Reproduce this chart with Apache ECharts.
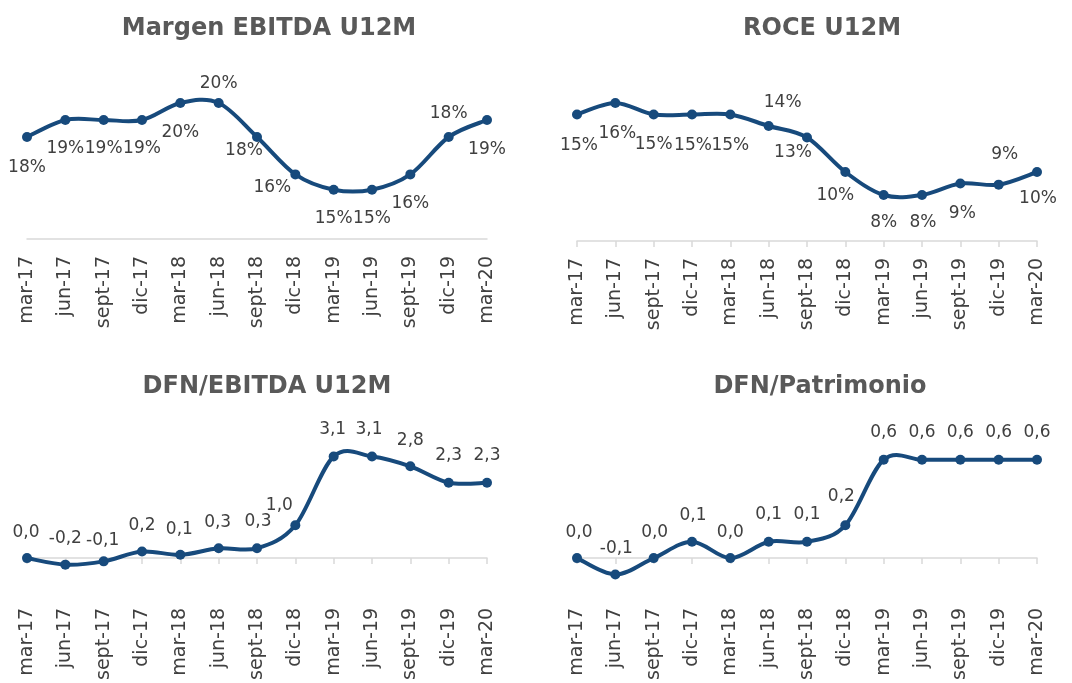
<!DOCTYPE html>
<html>
<head>
<meta charset="utf-8">
<script src="https://cdn.jsdelivr.net/npm/echarts@6/dist/echarts.min.js"></script>
<style>
  html, body { margin: 0; padding: 0; background: #fff; }
  #chart { width: 1072px; height: 683px; }
</style>
</head>
<body>
<div id="chart"></div>
<script>
var meses = ['mar-17', 'jun-17', 'sept-17', 'dic-17', 'mar-18', 'jun-18', 'sept-18',
    'dic-18', 'mar-19', 'jun-19', 'sept-19', 'dic-19', 'mar-20'];

var margenEbitda = [18.0, 19.0, 19.0, 19.0, 20.0, 20.0, 18.0, 15.8, 14.9, 14.9, 15.8, 18.0, 19.0];
var roce = [15.0, 16.0, 15.0, 15.0, 15.0, 14.0, 13.0, 10.0, 8.0, 8.0, 9.0, 8.9, 10.0];
var dfnEbitda = [0.0, -0.2, -0.1, 0.2, 0.1, 0.3, 0.3, 1.0, 3.1, 3.1, 2.8, 2.3, 2.3];
var dfnPatrimonio = [0.0, -0.1, 0.0, 0.1, 0.0, 0.1, 0.1, 0.2, 0.6, 0.6, 0.6, 0.6, 0.6];

// desplazamiento de cada etiqueta respecto al punto [dx, dy]
var off1 = [[0, 31], [0, 29], [0, 29], [0, 29], [0, 30], [0, -19], [-13, 14], [-23, 13],
    [0, 29], [0, 29], [0, 29], [0, -23], [0, 30]];
var off2 = [[2, 31], [2, 31], [0, 30], [1, 31], [0, 31], [14, -23], [-14, 15], [-10, 24],
    [0, 28], [1, 28], [2, 30], [6, -30], [1, 27]];
var off3 = [[-1, -26], [0, -26], [-1, -21], [0, -26], [-1, -25], [-1, -26], [1, -27], [-16, -20],
    [-1, -27], [-3, -27], [0, -26], [0, -27], [0, -27]];
var off4 = [[2, -26], [1, -26], [1, -26], [1, -26], [0, -26], [0, -27], [0, -27], [-4, -29],
    [0, -27], [0, -27], [0, -27], [0, -27], [0, -27]];

var azul = '#174a7c';
var gris = '#404040';
var fuente = 'DejaVu Sans';
var tension = 1 / 6; // suavizado tipo Excel (catmull-rom)

var chart = echarts.init(document.getElementById('chart'));

function pct(p) { return Math.round(p.value) + '%'; }
function dec(p) { return p.value.toFixed(1).replace('.', ','); }

function puntos(valores, offs) {
    return valores.map(function (v, i) {
        return { value: v, label: { offset: offs[i] } };
    });
}

// curva suave: un tramo bezier entre cada par de puntos
function curva(idx, valores) {
    return {
        type: 'custom',
        xAxisIndex: idx,
        yAxisIndex: idx,
        data: valores,
        silent: true,
        z: 2,
        renderItem: function (params, api) {
            var i = params.dataIndex;
            var n = valores.length;
            if (i >= n - 1) return;
            var p = function (k) {
                k = Math.max(0, Math.min(n - 1, k));
                return api.coord([k, valores[k]]);
            };
            var p0 = p(i - 1), p1 = p(i), p2 = p(i + 1), p3 = p(i + 2);
            return {
                type: 'bezierCurve',
                shape: {
                    x1: p1[0], y1: p1[1],
                    x2: p2[0], y2: p2[1],
                    cpx1: p1[0] + (p2[0] - p0[0]) * tension,
                    cpy1: p1[1] + (p2[1] - p0[1]) * tension,
                    cpx2: p2[0] - (p3[0] - p1[0]) * tension,
                    cpy2: p2[1] - (p3[1] - p1[1]) * tension
                },
                style: { stroke: azul, lineWidth: 4, fill: null }
            };
        }
    };
}

function serie(idx, valores, offs, fmt) {
    return {
        type: 'line',
        xAxisIndex: idx,
        yAxisIndex: idx,
        data: puntos(valores, offs),
        symbol: 'circle',
        symbolSize: 10,
        lineStyle: { opacity: 0 },
        itemStyle: { color: azul },
        label: {
            show: true,
            position: 'inside',
            formatter: fmt,
            color: gris,
            fontFamily: fuente,
            fontSize: 17
        },
        z: 3
    };
}

function ejeX(grid, conLinea, conTicks, conEtiquetas, sobreCero) {
    return {
        type: 'category',
        gridIndex: grid,
        data: meses,
        boundaryGap: false,
        position: 'bottom',
        axisLine: { show: conLinea, onZero: sobreCero, lineStyle: { color: '#d9d9d9', width: 1.5 } },
        axisTick: { show: conTicks, length: 6, alignWithLabel: true, lineStyle: { color: '#d9d9d9', width: 1.5 } },
        axisLabel: {
            show: conEtiquetas,
            rotate: 90,
            margin: 17,
            interval: 0,
            color: gris,
            fontFamily: fuente,
            fontSize: 19
        },
        splitLine: { show: false }
    };
}

function ejeY(grid, min, max) {
    return {
        type: 'value',
        gridIndex: grid,
        min: min,
        max: max,
        show: false,
        splitLine: { show: false }
    };
}

function titulo(texto, x, y) {
    return {
        text: texto,
        left: x,
        top: y,
        textAlign: 'center',
        textStyle: { fontFamily: fuente, fontSize: 24, fontWeight: 'bold', color: '#595959' }
    };
}

var option = {
    backgroundColor: '#fff',
    animation: false,
    title: [
        titulo('Margen EBITDA U12M', 264, 12),
        titulo('ROCE U12M', 817, 12),
        titulo('DFN/EBITDA U12M', 262, 370),
        titulo('DFN/Patrimonio', 815, 370)
    ],
    grid: [
        { left: 27, top: 69, width: 460, height: 170 },
        { left: 577, top: 80, width: 460, height: 161 },
        { left: 27, top: 427, width: 460, height: 167.5 },
        { left: 577, top: 427, width: 460, height: 168 }
    ],
    xAxis: [
        ejeX(0, true, false, true, false),
        ejeX(1, true, true, true, false),
        ejeX(2, false, false, true, false),
        ejeX(3, false, false, true, false),
        ejeX(2, true, true, false, true),
        ejeX(3, true, true, false, true)
    ],
    yAxis: [
        ejeY(0, 12, 22),
        ejeY(1, 4, 18),
        ejeY(2, -1, 4),
        ejeY(3, -0.2, 0.8)
    ],
    series: [
        curva(0, margenEbitda),
        curva(1, roce),
        curva(2, dfnEbitda),
        curva(3, dfnPatrimonio),
        serie(0, margenEbitda, off1, pct),
        serie(1, roce, off2, pct),
        serie(2, dfnEbitda, off3, dec),
        serie(3, dfnPatrimonio, off4, dec)
    ]
};

chart.setOption(option);
</script>
</body>
</html>
